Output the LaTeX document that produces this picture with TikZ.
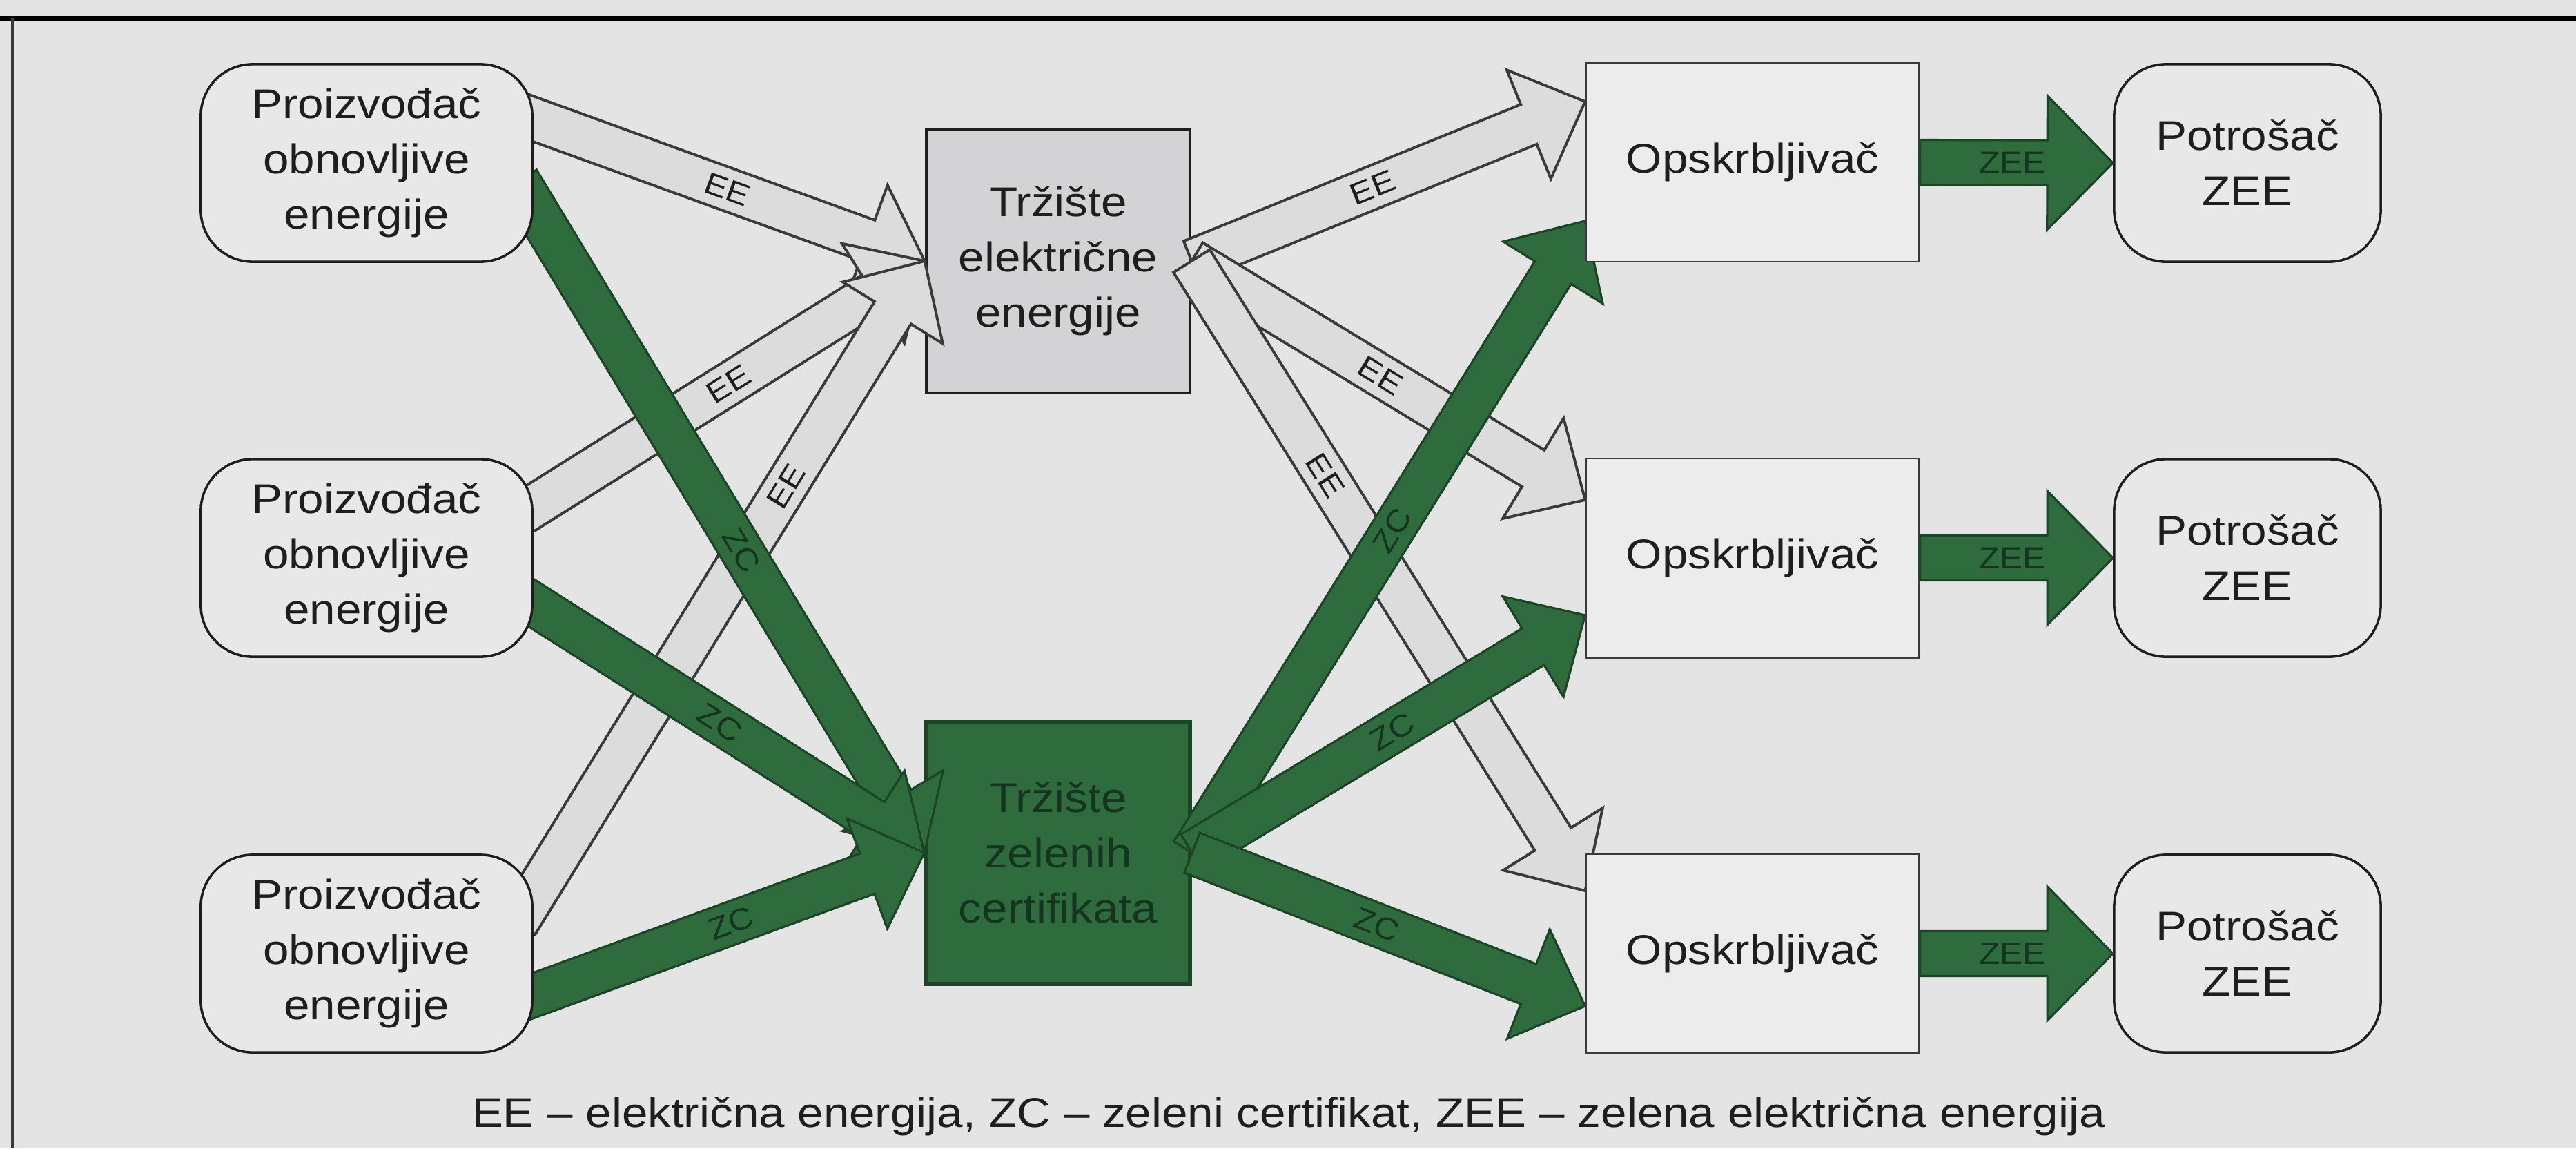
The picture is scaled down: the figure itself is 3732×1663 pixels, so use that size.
\documentclass[tikz,border=0pt]{standalone}
\usepackage{fontspec}
\setmainfont{Liberation Sans}[FakeStretch=1.12]
\usetikzlibrary{calc}

\definecolor{paper}{HTML}{E4E4E5}
\definecolor{boxfill}{HTML}{E8E8E8}
\definecolor{supfill}{HTML}{ECECEC}
\definecolor{mktfill}{HTML}{D3D3D5}
\definecolor{eefill}{HTML}{DCDCDC}
\definecolor{eeline}{HTML}{3A3A3A}
\definecolor{zgreen}{HTML}{2E6B3D}
\definecolor{zdark}{HTML}{1C4426}
\definecolor{zink}{HTML}{163520}
\definecolor{ink}{HTML}{1E1E1E}

\pgfdeclarelayer{back}
\pgfdeclarelayer{flow}
\pgfsetlayers{back,flow,main}

% Broad block arrow from #2 to the tip #3:
% #4 half shaft width, #5 half head width, #6 head length
\newcommand\fatarrow[6]{%
  \draw[#1] let \p1=#2, \p2=#3,
      \n1={atan2(\y2-\y1,\x2-\x1)}, \n2={veclen(\x2-\x1,\y2-\y1)} in
    ($(\p1)+(\n1+90:#4)$)
    -- ($(\p1)+(\n1:{\n2*1pt-#6})+(\n1+90:#4)$)
    -- ($(\p1)+(\n1:{\n2*1pt-#6})+(\n1+90:#5)$)
    -- (\p2)
    -- ($(\p1)+(\n1:{\n2*1pt-#6})+(\n1-90:#5)$)
    -- ($(\p1)+(\n1:{\n2*1pt-#6})+(\n1-90:#4)$)
    -- ($(\p1)+(\n1-90:#4)$) -- cycle;}

\begin{document}
\begin{tikzpicture}[x=0.01cm,y=-0.01cm,
  txt/.style={font=\fontsize{17.1pt}{22.8pt}\selectfont, align=center,
    inner sep=0pt, text=ink},
  prodbox/.style={txt, draw=ink, line width=1pt, fill=boxfill,
    rounded corners=0.75cm, minimum width=4.8cm, minimum height=2.86cm},
  userbox/.style={prodbox, minimum width=3.86cm},
  supbox/.style={txt, draw=eeline, line width=0.8pt, fill=supfill,
    minimum width=4.82cm, minimum height=2.88cm},
  mktbox/.style={txt, draw=ink, line width=1.3pt, fill=mktfill,
    minimum width=3.82cm, minimum height=3.82cm},
  certbox/.style={txt, draw=zdark, line width=1.6pt, fill=zgreen,
    text=zink, minimum width=3.82cm, minimum height=3.8cm},
  eeflow/.style={fill=eefill, draw=eeline, line width=1.1pt},
  zcflow/.style={fill=zgreen, draw=zdark, line width=0.9pt},
  tag/.style={font=\fontsize{12.6pt}{14pt}\selectfont, inner sep=0pt,
    sloped, text=ink},
  gtag/.style={tag, text=zink}
]
\useasboundingbox (0,0) rectangle (3732,1663);

\begin{pgfonlayer}{back}
  \fill[paper] (0,0) rectangle (3732,1663);
  \draw[line width=0.07cm, black] (0,26) -- (3732,26);
  \draw[line width=0.04cm, eeline] (18,26) -- (18,1663);
  % markets
  \node[mktbox] (T1) at (1533,378) {Tržište\\električne\\energije};
  \node[certbox] (T2) at (1533,1235) {Tržište\\zelenih\\certifikata};
\end{pgfonlayer}

% producers
\node[prodbox] (P1) at (531,236) {Proizvođač\\obnovljive\\energije};
\node[prodbox] (P2) at (531,808) {Proizvođač\\obnovljive\\energije};
\node[prodbox] (P3) at (531,1381) {Proizvođač\\obnovljive\\energije};
% suppliers
\node[supbox] (O1) at (2539,235) {Opskrbljivač};
\node[supbox] (O2) at (2539,808) {Opskrbljivač};
\node[supbox] (O3) at (2539,1381) {Opskrbljivač};
% consumers
\node[userbox] (C1) at (3256,236) {Potrošač\\ZEE};
\node[userbox] (C2) at (3256,808) {Potrošač\\ZEE};
\node[userbox] (C3) at (3256,1381) {Potrošač\\ZEE};

% arrow ends
\coordinate (s1) at ($(P1.east)+(-42,-79)$);
\coordinate (s2) at ($(P2.east)+(-38,-51)$);
\coordinate (s3) at ($(P3.east)+(-24,-44)$);
\coordinate (g1) at ($(P1.east)+(-22,26)$);
\coordinate (g2) at ($(P2.east)+(-38,43)$);
\coordinate (g3) at ($(P3.east)+(-42,76)$);
\coordinate (e1) at ($(O1.west)+(0,-88)$);
\coordinate (e2) at ($(O2.west)+(0,-84)$);
\coordinate (e3) at ($(O3.west)+(0,-91)$);
\coordinate (z1) at ($(O1.west)+(0,85)$);
\coordinate (z2) at ($(O2.west)+(0,83)$);
\coordinate (z3) at ($(O3.west)+(0,76)$);

\begin{pgfonlayer}{flow}
  % electricity flows
  \fatarrow{eeflow}{(s1)}{(T1.west)}{0.31cm}{0.85cm}{0.88cm}
  \path (s1) -- (T1.west) node[tag, pos=0.53] {EE};
  \fatarrow{eeflow}{(s2)}{(T1.west)}{0.31cm}{0.85cm}{0.88cm}
  \path (s2) -- (T1.west) node[tag, pos=0.53] {EE};
  \fatarrow{eeflow}{(s3)}{(T1.west)}{0.31cm}{0.85cm}{0.88cm}
  \path (s3) -- (T1.west) node[tag, pos=0.66] {EE};
  \fatarrow{eeflow}{(T1.east)}{(e1)}{0.31cm}{0.85cm}{0.88cm}
  \path (T1.east) -- (e1) node[tag, pos=0.46] {EE};
  \fatarrow{eeflow}{(T1.east)}{(e2)}{0.31cm}{0.85cm}{0.88cm}
  \path (T1.east) -- (e2) node[tag, pos=0.48] {EE};
  \fatarrow{eeflow}{(T1.east)}{(e3)}{0.31cm}{0.85cm}{0.88cm}
  \path (T1.east) -- (e3) node[tag, pos=0.34] {EE};
  % certificate flows
  \fatarrow{zcflow}{(g1)}{(T2.west)}{0.31cm}{0.85cm}{0.88cm}
  \path (g1) -- (T2.west) node[gtag, pos=0.55] {ZC};
  \fatarrow{zcflow}{(g2)}{(T2.west)}{0.31cm}{0.85cm}{0.88cm}
  \path (g2) -- (T2.west) node[gtag, pos=0.51] {ZC};
  \fatarrow{zcflow}{(g3)}{(T2.west)}{0.31cm}{0.85cm}{0.88cm}
  \path (g3) -- (T2.west) node[gtag, pos=0.54] {ZC};
  \fatarrow{zcflow}{(T2.east)}{(z1)}{0.31cm}{0.85cm}{0.88cm}
  \path (T2.east) -- (z1) node[gtag, pos=0.51] {ZC};
  \fatarrow{zcflow}{(T2.east)}{(z2)}{0.31cm}{0.85cm}{0.88cm}
  \path (T2.east) -- (z2) node[gtag, pos=0.51] {ZC};
  \fatarrow{zcflow}{(T2.east)}{(z3)}{0.31cm}{0.85cm}{0.88cm}
  \path (T2.east) -- (z3) node[gtag, pos=0.47] {ZC};
\end{pgfonlayer}

% green electricity to consumers
\foreach \i in {1,2,3}{
  \fatarrow{zcflow}{(O\i.east)}{(C\i.west)}{0.325cm}{0.97cm}{0.95cm}
  \path (O\i.east) -- (C\i.west) node[gtag, pos=0.48] {ZEE};
}

\node[txt, anchor=base] (legend) at (1867,1632)
  {EE – električna energija, ZC – zeleni certifikat, ZEE – zelena električna energija};
\end{tikzpicture}
\end{document}
